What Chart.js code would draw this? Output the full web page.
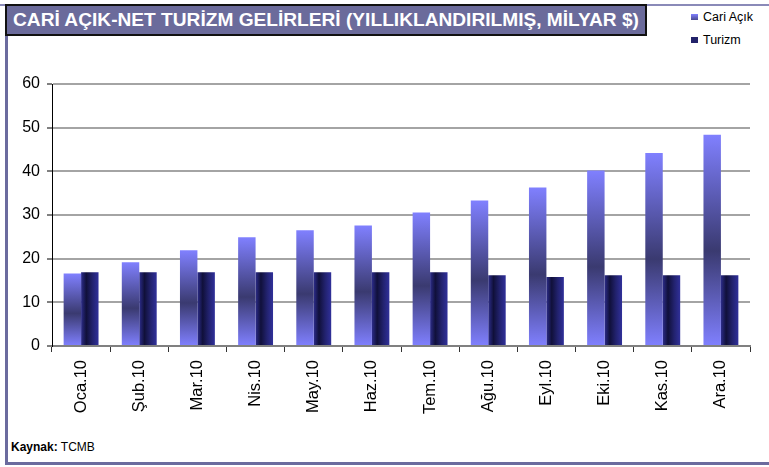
<!DOCTYPE html>
<html>
<head>
<meta charset="utf-8">
<script src="https://cdn.jsdelivr.net/npm/chart.js@4"></script>
<style>
  html, body { margin: 0; padding: 0; background: #fff; }
  body { width: 769px; height: 467px; position: relative; overflow: hidden; font-family: Arial, "Liberation Sans", sans-serif; }
  #chart { position: absolute; left: 0; top: 0; }
  .frame { position: absolute; background: #6b6b9e; }
  #title {
    position: absolute; left: 5px; top: 4px; width: 638px; height: 28px;
    background: #6b6b9b; border: 2px solid #111; z-index: 2;
    color: #fff; font-weight: bold; font-size: 18px; line-height: 29px; white-space: nowrap; overflow: hidden;
  }
  #title span { display: inline-block; transform-origin: 0 50%; margin-left: 6px; }
  #legend { position: absolute; left: 691px; top: 10px; font-size: 12.5px; color: #000; }
  #legend div { height: 23px; line-height: 14px; white-space: nowrap; }
  #legend i { display: inline-block; width: 7px; height: 6px; margin-right: 5px; vertical-align: 1px; }
  #source { position: absolute; left: 11px; top: 440px; font-size: 12px; color: #000; }
</style>
</head>
<body>
<div class="frame" style="left:0;top:4px;width:769px;height:2px;background:#8a8ab8"></div>
<div class="frame" style="left:5px;top:4px;width:3px;height:461px"></div>
<div class="frame" style="left:5px;top:462px;width:764px;height:3px"></div>
<div id="title"><span>CARİ AÇIK-NET TURİZM GELİRLERİ (YILLIKLANDIRILMIŞ, MİLYAR $)</span></div>
<div id="legend">
  <div><i style="background:linear-gradient(#8080ff,#4a4a90)"></i>Cari Açık</div>
  <div><i style="background:#22226a"></i>Turizm</div>
</div>
<div id="source"><b>Kaynak:</b> TCMB</div>
<canvas id="chart" width="769" height="467"></canvas>
<script>
const months = ['Oca.10', 'Şub.10', 'Mar.10', 'Nis.10', 'May.10', 'Haz.10', 'Tem.10', 'Ağu.10', 'Eyl.10', 'Eki.10', 'Kas.10', 'Ara.10'];
const cariAcik = [16.6, 19.2, 21.9, 24.9, 26.5, 27.6, 30.6, 33.3, 36.3, 40.2, 44.2, 48.4];
const turizm = [16.9, 16.9, 16.9, 16.9, 16.9, 16.9, 16.9, 16.2, 15.8, 16.2, 16.2, 16.2];
const yTicks = [0, 10, 20, 30, 40, 50, 60];

// fit title text into its box
const titleSpan = document.querySelector('#title span');
titleSpan.style.transform = 'scaleX(' + (626 / titleSpan.offsetWidth) + ')';

function cariFill(ctx) {
  const chart = ctx.chart;
  if (!chart.chartArea || ctx.type !== 'data') return '#8080ff';
  const y = chart.scales.y;
  const top = y.getPixelForValue(ctx.raw);
  const bottom = y.getPixelForValue(0);
  const g = chart.ctx.createLinearGradient(0, top, 0, bottom);
  g.addColorStop(0, '#8080ff');
  g.addColorStop(0.55, '#3a3a70');
  g.addColorStop(1, '#8080ff');
  return g;
}

function turizmFill(ctx) {
  const chart = ctx.chart;
  if (!chart.chartArea || ctx.type !== 'data') return '#22226a';
  const x = chart.scales.x;
  const left = x.getPixelForValue(ctx.dataIndex);
  const w = x.width / months.length * 0.3;
  const g = chart.ctx.createLinearGradient(left, 0, left + w, 0);
  g.addColorStop(0, '#2c2c8a');
  g.addColorStop(0.3, '#10103a');
  g.addColorStop(0.65, '#22226e');
  g.addColorStop(1, '#30309a');
  return g;
}

new Chart(document.getElementById('chart'), {
  type: 'bar',
  data: {
    labels: months,
    datasets: [
      { label: 'Cari Açık', data: cariAcik, backgroundColor: cariFill, categoryPercentage: 0.6, barPercentage: 1 },
      { label: 'Turizm', data: turizm, backgroundColor: turizmFill, categoryPercentage: 0.6, barPercentage: 1 }
    ]
  },
  options: {
    responsive: false,
    animation: false,
    layout: { padding: { left: 0, top: 84, right: 19, bottom: 0 } },
    plugins: { legend: { display: false }, tooltip: { enabled: false } },
    scales: {
      x: {
        afterFit: s => { s.height = 121; },
        grid: { offset: true, drawOnChartArea: false, tickLength: 6, tickColor: '#333', tickWidth: 1 },
        border: { color: '#808080', width: 2 },
        ticks: { color: '#000', font: { size: 16.5, family: 'Arial, "Liberation Sans"' }, minRotation: 90, maxRotation: 90, padding: 8 }
      },
      y: {
        min: 0, max: 60,
        afterFit: s => { s.width = 52; },
        afterBuildTicks: s => { s.ticks = yTicks.map(v => ({ value: v })); },
        grid: { color: '#a4a4a4', lineWidth: 2, tickColor: '#000', tickLength: 5, tickWidth: 1 },
        border: { color: '#000', width: 1 },
        ticks: { color: '#000', font: { size: 16, family: 'Arial, "Liberation Sans"' }, padding: 7 }
      }
    }
  }
});
</script>
</body>
</html>
